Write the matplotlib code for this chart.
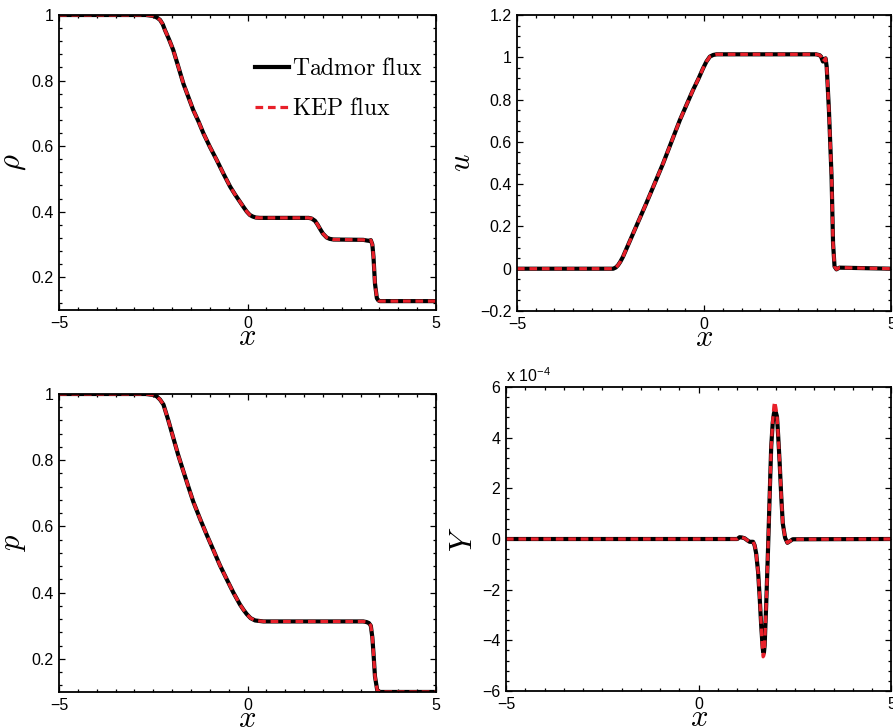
import numpy as np
import matplotlib
matplotlib.use('Agg')
import matplotlib.pyplot as plt
from matplotlib.ticker import MultipleLocator, FuncFormatter

plt.rcParams['font.family'] = ['Liberation Sans', 'DejaVu Sans']
plt.rcParams['mathtext.fontset'] = 'cm'

# density
rho_x = [-5, -2.7, -2.5, -2.4, -2.32, -2.25, -2.19, -2.08, -1.97, -1.83, -1.70, -1.57, -1.44,
         -1.30, -1.17, -1.00, -0.82, -0.64, -0.46, -0.33, -0.20, -0.10, -0.02, 0.06, 0.14, 0.22,
         0.33, 1.62, 1.70, 1.79, 1.86, 1.92, 2.0, 2.10, 2.18, 2.28, 3.07, 3.16, 3.22, 3.27, 3.31,
         3.34, 3.38, 3.43, 3.47, 3.51, 5]
rho = [1, 1, 0.997, 0.992, 0.985, 0.972, 0.954, 0.925, 0.893, 0.84, 0.79, 0.75, 0.71,
       0.675, 0.639, 0.598, 0.558, 0.516, 0.476, 0.452, 0.43, 0.413, 0.40, 0.39, 0.385, 0.382,
       0.381, 0.381, 0.379, 0.372, 0.36, 0.348, 0.333, 0.321, 0.317, 0.315, 0.314, 0.312, 0.311, 0.313, 0.30,
       0.263, 0.181, 0.136, 0.129, 0.127, 0.127]

# velocity
u_x = [-5, -2.43, -2.36, -2.30, -2.24, -2.17, -2.05, -1.90, -1.55, -1.10, -0.65, -0.30, -0.15,
       -0.03, 0.06, 0.15, 0.24, 0.33, 2.99, 3.08, 3.12, 3.17, 3.24, 3.27, 3.33, 3.40, 3.44, 3.48,
       3.53, 3.61, 5]
u = [0, 0, 0.006, 0.017, 0.033, 0.056, 0.105, 0.166, 0.308, 0.497, 0.703, 0.845, 0.9,
     0.948, 0.98, 1.003, 1.011, 1.014, 1.014, 1.01, 1.003, 0.98, 0.995, 0.955, 0.75, 0.435, 0.12, 0.01,
     -0.003, 0.005, 0]

# pressure
p_x = [-5, -2.7, -2.5, -2.41, -2.32, -2.23, -2.10, -1.97, -1.84, -1.70, -1.57, -1.44, -1.26,
       -1.08, -0.90, -0.73, -0.55, -0.38, -0.20, -0.10, -0.02, 0.08, 0.20, 0.42, 3.07, 3.16, 3.22,
       3.27, 3.31, 3.34, 3.38, 3.44, 3.51, 5]
p = [1, 1, 0.997, 0.993, 0.983, 0.968, 0.92, 0.868, 0.816, 0.766, 0.72, 0.675, 0.623,
     0.574, 0.527, 0.482, 0.44, 0.401, 0.364, 0.347, 0.335, 0.323, 0.316, 0.313, 0.313, 0.311, 0.308,
     0.30, 0.265, 0.218, 0.147, 0.105, 0.10, 0.10]

# mass fraction (units of 1e-4)
Y_x = [-5, 1.0, 1.06, 1.12, 1.19, 1.26, 1.32, 1.41, 1.45, 1.49, 1.54, 1.58, 1.62, 1.65, 1.67,
       1.69, 1.71, 1.75, 1.80, 1.84, 1.88, 1.92, 1.95, 1.97, 2.00, 2.03, 2.06, 2.10, 2.14, 2.18,
       2.24, 2.30, 2.37, 2.44, 5]
Y_tadmor = np.array([0, 0, 0.07, 0.06, 0.03, -0.05, -0.11, -0.11, -0.25, -0.57, -1.3, -2.28, -3.4, -4.1, -4.45,
                     -4.5, -4.2, -2.6, -0.3, 1.7, 3.64, 4.6, 4.95, 5.05, 5.0, 4.83, 4.1, 2.99, 1.7, 0.62,
                     0.05, -0.15, -0.08, -0.01, 0]) * 1e-4
Y_kep = np.array([0, 0, 0.07, 0.06, 0.03, -0.05, -0.11, -0.11, -0.25, -0.57, -1.3, -2.28, -3.4, -4.3, -4.65,
                  -4.6, -4.2, -2.6, -0.3, 1.7, 3.64, 4.7, 5.25, 5.42, 5.2, 4.9, 4.1, 2.99, 1.7, 0.62,
                  0.05, -0.15, -0.08, -0.01, 0]) * 1e-4

fig = plt.figure(figsize=(8.93, 7.28), dpi=100)
ax1 = fig.add_axes([0.0661, 0.5742, 0.4222, 0.4052])
ax2 = fig.add_axes([0.5789, 0.5728, 0.4194, 0.4066])
ax3 = fig.add_axes([0.0661, 0.0495, 0.4222, 0.4093])
ax4 = fig.add_axes([0.5666, 0.0508, 0.4317, 0.4176])


def draw(ax, xs, y1, y2, ylab):
    ax.plot(xs, y1, color='black', lw=3.0, solid_joinstyle='round', label=r'$\mathrm{Tadmor\ flux}$')
    ax.plot(xs, y2, color='#e8202a', lw=2.3, dashes=(2.4, 1.5), label=r'$\mathrm{KEP\ flux}$')
    ax.set_xlim(-5, 5)
    ax.xaxis.set_major_locator(MultipleLocator(5))
    ax.xaxis.set_minor_locator(MultipleLocator(0.5))
    ax.tick_params(which='both', direction='in', top=True, right=True, labelsize=11.5, width=0.9)
    ax.tick_params(which='major', length=4.5, pad=4)
    ax.tick_params(which='minor', length=2.5)
    for s in ax.spines.values():
        s.set_linewidth(1.3)
    ax.set_xlabel(r'$x$', fontsize=22, labelpad=-6)
    ax.set_ylabel(ylab, fontsize=22, labelpad=2)


draw(ax1, rho_x, rho, rho, r'$\rho$')
ax1.set_ylim(0.1, 1.0)
ax1.set_yticks([0.2, 0.4, 0.6, 0.8, 1.0])
ax1.set_yticklabels(['0.2', '0.4', '0.6', '0.8', '1'])
ax1.yaxis.set_minor_locator(MultipleLocator(0.04))
ax1.legend(loc='upper left', bbox_to_anchor=(0.495, 0.885), frameon=False, fontsize=17,
           handlelength=1.45, handletextpad=0.12, labelspacing=0.75, borderaxespad=0)

draw(ax2, u_x, u, u, r'$u$')
ax2.set_ylim(-0.2, 1.2)
ax2.set_yticks([-0.2, 0, 0.2, 0.4, 0.6, 0.8, 1.0, 1.2])
ax2.set_yticklabels(['\u22120.2', '0', '0.2', '0.4', '0.6', '0.8', '1', '1.2'])
ax2.yaxis.set_minor_locator(MultipleLocator(0.05))

draw(ax3, p_x, p, p, r'$p$')
ax3.set_ylim(0.1, 1.0)
ax3.set_yticks([0.2, 0.4, 0.6, 0.8, 1.0])
ax3.set_yticklabels(['0.2', '0.4', '0.6', '0.8', '1'])
ax3.yaxis.set_minor_locator(MultipleLocator(0.04))

draw(ax4, Y_x, Y_tadmor, Y_kep, r'$Y$')
ax4.set_ylim(-6e-4, 6e-4)
ax4.yaxis.set_major_locator(MultipleLocator(2e-4))
ax4.yaxis.set_minor_locator(MultipleLocator(0.4e-4))
ax4.yaxis.set_major_formatter(FuncFormatter(lambda v, pos: ('%d' % round(v / 1e-4)).replace('-', '\u2212')))
ax4.text(0.0, 1.005, r'x 10$^{\mathregular{-4}}$', transform=ax4.transAxes, fontsize=11.5,
         ha='left', va='bottom')

fig.savefig('out.png', dpi=100)
